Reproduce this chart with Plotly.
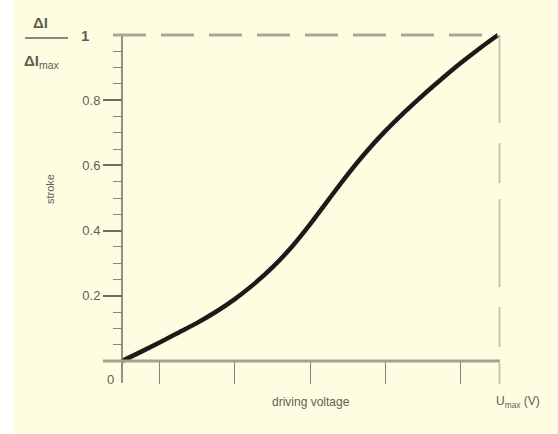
import plotly.graph_objects as go

# ---- data ----
voltage = [0, 0.05, 0.1, 0.15, 0.2, 0.25, 0.3, 0.35, 0.4, 0.45, 0.5,
           0.55, 0.6, 0.65, 0.7, 0.75, 0.8, 0.85, 0.9, 0.95, 1.0]
stroke = [0, 0.028, 0.057, 0.087, 0.117, 0.151, 0.19, 0.235, 0.287, 0.348, 0.419,
          0.496, 0.572, 0.642, 0.705, 0.762, 0.815, 0.865, 0.913, 0.958, 1.0]

y_major = [0.2, 0.4, 0.6, 0.8]
y_major_text = ["0.2", "0.4", "0.6", "0.8"]
y_minor = [0.05, 0.1, 0.15, 0.25, 0.3, 0.35, 0.45, 0.5, 0.55, 0.65, 0.7, 0.75, 0.85, 0.9, 0.95]
x_ticks = [0.1, 0.3, 0.5, 0.7, 0.9]

W, H = 558, 434
PL, PR, PT, PB = 103, 510, 30, 385  # plot area in pixels
X0PX, X1PX = 122, 498   # pixel of x=0 and x=1
Y0PX, Y1PX = 361, 35    # pixel of y=0 and y=1
sx = (X1PX - X0PX)
sy = (Y0PX - Y1PX)
xr = [(PL - X0PX) / sx, (PR - X0PX) / sx]
yr = [(Y0PX - PB) / sy, (Y0PX - PT) / sy]


def px(x):
    return (x - PL) / (PR - PL)


def py(y):
    return (PB - y) / (PB - PT)


BG = "#fefde2"
TXT = "#5f5f52"
FONT = "Liberation Sans, Arial, sans-serif"

fig = go.Figure()
fig.add_trace(go.Scatter(x=voltage, y=stroke, mode="lines",
                         line=dict(color="#1c1c16", width=4.5, shape="spline", smoothing=1.0),
                         hoverinfo="skip", showlegend=False))

shapes = [
    # white strip on the left edge
    dict(type="rect", xref="paper", yref="paper", x0=px(0), x1=px(13), y0=py(H), y1=py(0),
         fillcolor="white", line=dict(width=0), layer="below"),
    # y axis line
    dict(type="line", xref="x", yref="y", x0=0, x1=0, y0=(Y0PX - 383) / sy, y1=1,
         line=dict(color="#6e6e60", width=1.5)),
    # x axis line
    dict(type="line", xref="x", yref="y", x0=xr[0], x1=1.005, y0=0, y1=0,
         line=dict(color="#a3a38c", width=3)),
    # dashed line at full stroke
    dict(type="line", xref="x", yref="y", x0=(113 - X0PX) / sx, x1=1, y0=1, y1=1,
         line=dict(color="#a9a993", width=3, dash="33px,15px")),
    # dashed line at Umax
    dict(type="line", xref="x", yref="y", x0=1.004, x1=1.004, y0=1, y1=(Y0PX - 384) / sy,
         line=dict(color="#c6c6ae", width=2, dash="88px,20px,40px,16px")),
    # fraction bar
    dict(type="line", xref="paper", yref="paper", x0=px(25), x1=px(68), y0=py(38), y1=py(38),
         line=dict(color="#8a8a78", width=2)),
]

annotations = [
    dict(text="stroke", x=px(50), y=py(189), textangle=-90, font=dict(size=11, color=TXT)),
    dict(text="driving voltage", x=px(311), y=py(402), font=dict(size=12, color=TXT)),
    dict(text="U<sub>max</sub> (V)", x=px(494), y=py(402), xanchor="left", font=dict(size=12, color=TXT)),
    dict(text="<b>1</b>", x=px(85), y=py(36), font=dict(size=15, color=TXT)),
    dict(text="0", x=px(110), y=py(379), font=dict(size=13, color=TXT)),
    dict(text="<b>ΔI</b>", x=px(41), y=py(22), font=dict(size=15, color=TXT)),
    dict(text="<b>ΔI</b><sub>max</sub>", x=px(22), y=py(61), xanchor="left", font=dict(size=15, color=TXT)),
]
for a in annotations:
    a.update(xref="paper", yref="paper", showarrow=False)
    a.setdefault("xanchor", "center")
    a["yanchor"] = "middle"

fig.update_layout(
    width=W, height=H,
    margin=dict(l=PL, r=W - PR, t=PT, b=H - PB, pad=0),
    paper_bgcolor=BG, plot_bgcolor=BG,
    font=dict(family=FONT, color=TXT),
    shapes=shapes, annotations=annotations,
    xaxis=dict(range=xr, anchor="free", position=py(Y0PX), showgrid=False, zeroline=False,
               showline=False, tickmode="array", tickvals=x_ticks, showticklabels=False,
               ticks="outside", ticklen=22, tickwidth=1.3, tickcolor="#85857a", fixedrange=True),
    yaxis=dict(range=yr, anchor="free", position=px(X0PX), showgrid=False, zeroline=False,
               showline=False, tickmode="array", tickvals=y_major, ticktext=y_major_text,
               ticks="outside", ticklen=19, tickwidth=1.5, tickcolor="#6e6e60",
               tickfont=dict(size=13, color=TXT, family=FONT),
               minor=dict(tickmode="array", tickvals=y_minor, ticks="outside", ticklen=9,
                          tickwidth=1, tickcolor="#8c8c7a"), fixedrange=True),
)

fig.write_html("out.html")
